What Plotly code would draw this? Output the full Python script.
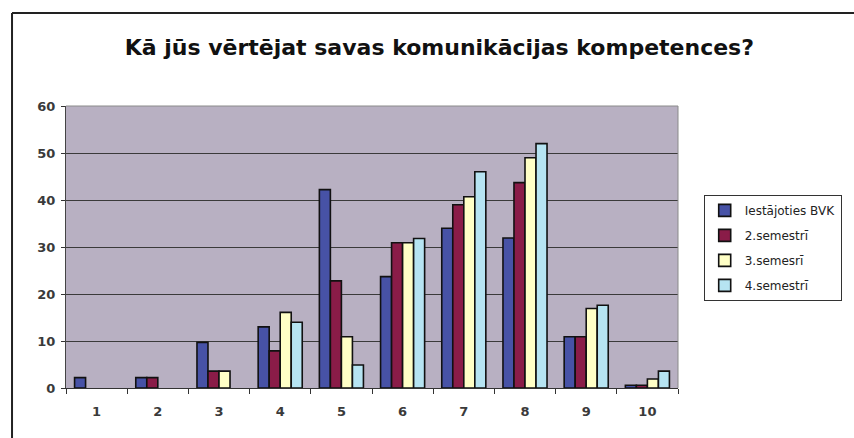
import plotly.graph_objects as go

categories = ["1", "2", "3", "4", "5", "6", "7", "8", "9", "10"]
series_names = ["Iestājoties BVK", "2.semestrī", "3.semesrī", "4.semestrī"]
# None = no answers in that group (no bar drawn, slot kept)
iestajoties = [2.2, 2.2, 9.7, 13.0, 42.2, 23.7, 34.0, 31.9, 10.9, 0.6]
semestris_2 = [None, 2.2, 3.6, 7.9, 22.8, 30.9, 39.0, 43.7, 10.9, 0.6]
semestris_3 = [None, None, 3.6, 16.1, 10.9, 30.9, 40.7, 49.0, 16.9, 1.9]
semestris_4 = [None, None, None, 14.0, 4.9, 31.8, 46.0, 52.0, 17.6, 3.6]

values = [iestajoties, semestris_2, semestris_3, semestris_4]
colors = ["#4752A6", "#8A1C48", "#FFFFC6", "#B6E4F2"]

fig = go.Figure()
for name, vals, col in zip(series_names, values, colors):
    fig.add_trace(go.Bar(
        x=categories, y=vals, name=name, legendgroup=name,
        marker=dict(color=col, line=dict(color="#111111", width=1.6)),
    ))

FONT = "DejaVu Sans, Liberation Sans, Arial, sans-serif"

fig.update_layout(
    width=854, height=438,
    margin=dict(l=66, r=176, t=106, b=50),
    paper_bgcolor="white",
    plot_bgcolor="#B8B0C2",
    barmode="group",
    bargap=0.28,
    bargroupgap=0,
    font=dict(family=FONT, size=11, color="#222222"),
    title=dict(
        text="<b>Kā jūs vērtējat savas komunikācijas kompetences?</b>",
        x=0.61, xref="paper", xanchor="center",
        y=0.893, yref="container", yanchor="middle",
        font=dict(family=FONT, size=22, color="#111111"),
    ),
    legend=dict(
        x=1.042, xanchor="left", y=0.685, yanchor="top",
        bgcolor="white", bordercolor="#333333", borderwidth=1,
        font=dict(family=FONT, size=12, color="#222222"),
        tracegroupgap=6, itemwidth=30,
    ),
    showlegend=True,
)

fig.update_xaxes(
    type="category",
    showline=True, linecolor="#333333", linewidth=1.2, mirror=False,
    ticks="outside", tickson="boundaries", ticklen=5, tickcolor="#333333",
    ticklabelstandoff=11,
    tickfont=dict(family=FONT, size=13, color="#3A3A3A", weight="bold"),
    showgrid=False,
)
fig.update_yaxes(
    range=[0, 60], dtick=10,
    showline=True, linecolor="#444444", linewidth=1, mirror=False,
    ticks="outside", ticklen=4, tickcolor="#333333",
    ticklabelstandoff=3,
    tickfont=dict(family=FONT, size=13, color="#3A3A3A", weight="bold"),
    showgrid=True, gridcolor="#3A3A3A", gridwidth=1.2,
    zeroline=False,
)

# thin border along the top and right of the plotting area
fig.add_shape(type="line", xref="paper", yref="paper", x0=0, x1=1, y0=1, y1=1,
              line=dict(color="#8A8A8A", width=1))
fig.add_shape(type="line", xref="paper", yref="paper", x0=1, x1=1, y0=0, y1=1,
              line=dict(color="#8A8A8A", width=1))

# outer frame of the chart (left and top edges)
fig.add_shape(type="line", xref="paper", yref="paper",
              x0=-0.0882, x1=-0.0882, y0=-0.2, y1=1.3298,
              line=dict(color="#222222", width=2))
fig.add_shape(type="line", xref="paper", yref="paper",
              x0=-0.0882, x1=1.3, y0=1.3298, y1=1.3298,
              line=dict(color="#222222", width=2))

fig.write_html("out.html")
